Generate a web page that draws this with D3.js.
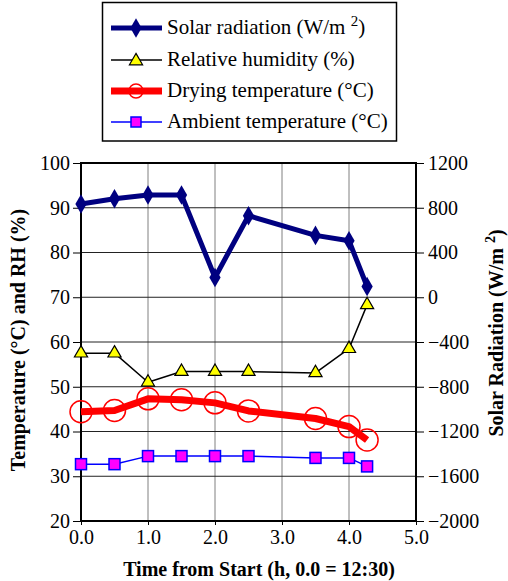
<!DOCTYPE html>
<html>
<head>
<meta charset="UTF-8">
<script src="https://d3js.org/d3.v7.min.js"></script>
<style>
    #fig text, #fig tspan { font-family: "Times New Roman", "Liberation Serif", Tinos, serif !important; }
</style>
</head>
<body style="margin:0">
<svg id="fig" width="508" height="581"></svg>
<script>
    // data
    let hours = [0.0, 0.5, 1.0, 1.5, 2.0, 2.5, 3.5, 4.0, 4.27]
    let solar = [833, 881, 914, 914, 177, 729, 553, 505, 96]
    let humidity = [57.5, 57.5, 51.0, 53.4, 53.4, 53.4, 53.1, 58.5, 68.3]
    let drying = [44.4, 44.7, 47.3, 47.1, 46.4, 44.6, 42.9, 41.1, 38.1]
    let ambient = [32.7, 32.7, 34.5, 34.5, 34.5, 34.5, 34.1, 34.1, 32.2]
    let xTicks = [0, 1, 2, 3, 4, 5]
    let leftTicks = [20, 30, 40, 50, 60, 70, 80, 90, 100]
    let rightTicks = [-2000, -1600, -1200, -800, -400, 0, 400, 800, 1200]

    let svg = d3.select("#fig")
    let pLeft = 81, pRight = 416, pTop = 163, pBottom = 521
    let serif = '"Times New Roman", "Liberation Serif", Tinos, serif'

    let x = d3.scaleLinear().domain([0, 5]).range([pLeft, pRight])
    let yL = d3.scaleLinear().domain([20, 100]).range([pBottom, pTop])
    let yR = d3.scaleLinear().domain([-2000, 1200]).range([pBottom, pTop])

    // grid
    svg.append("g").selectAll("line").data(xTicks.slice(1, -1)).join("line")
        .attr("x1", d => x(d)).attr("x2", d => x(d))
        .attr("y1", pTop).attr("y2", pBottom)
        .attr("stroke", "#808080").attr("stroke-width", 1)
    svg.append("g").selectAll("line").data(leftTicks.slice(1, -1)).join("line")
        .attr("x1", pLeft).attr("x2", pRight)
        .attr("y1", d => yL(d)).attr("y2", d => yL(d))
        .attr("stroke", "#222").attr("stroke-width", 1)

    // axes
    let axL = svg.append("g").attr("transform", `translate(${pLeft},0)`)
        .call(d3.axisLeft(yL).tickValues(leftTicks).tickSize(8).tickSizeOuter(0).tickPadding(3))
    let axR = svg.append("g").attr("transform", `translate(${pRight},0)`)
        .call(d3.axisRight(yR).tickValues(rightTicks).tickSize(8).tickSizeOuter(0).tickPadding(4)
            .tickFormat(d => d < 0 ? "\u2212" + Math.abs(d) : d))
    let axB = svg.append("g").attr("transform", `translate(0,${pBottom})`)
        .call(d3.axisBottom(x).tickValues(xTicks).tickSize(4).tickPadding(5).tickFormat(d3.format(".1f")))
    for (let ax of [axL, axR, axB]) {
        ax.attr("font-family", serif).attr("font-size", 20)
        ax.selectAll("text").style("font-family", serif).style("font-size", "20px").style("fill", "#000")
        ax.selectAll(".domain").remove()
        ax.selectAll(".tick line").attr("stroke", "#000").attr("stroke-width", 1)
    }
    svg.append("rect").attr("x", pLeft).attr("y", pTop)
        .attr("width", pRight - pLeft).attr("height", pBottom - pTop)
        .attr("fill", "none").attr("stroke", "#000").attr("stroke-width", 2)

    // series
    let idx = d3.range(hours.length)
    function drawLine(vals, scale, color, width) {
        svg.append("path").datum(idx)
            .attr("d", d3.line().x(i => x(hours[i])).y(i => scale(vals[i])))
            .attr("fill", "none").attr("stroke", color).attr("stroke-width", width)
            .attr("stroke-linejoin", "round")
    }

    drawLine(ambient, yL, "#0000ff", 1.5)
    svg.append("g").selectAll("rect").data(idx).join("rect")
        .attr("x", i => x(hours[i]) - 5.5).attr("y", i => yL(ambient[i]) - 5.5)
        .attr("width", 11).attr("height", 11)
        .attr("fill", "#ff00ff").attr("stroke", "#0000ff").attr("stroke-width", 1.5)

    drawLine(drying, yL, "#ff0000", 7)
    svg.append("g").selectAll("circle").data(idx).join("circle")
        .attr("cx", i => x(hours[i])).attr("cy", i => yL(drying[i])).attr("r", 11)
        .attr("fill", "none").attr("stroke", "#ff0000").attr("stroke-width", 1.5)

    drawLine(humidity, yL, "#000", 1.5)
    let tri = d3.symbol().type(d3.symbolTriangle).size(75)
    svg.append("g").selectAll("path").data(idx).join("path")
        .attr("d", tri).attr("transform", i => `translate(${x(hours[i])},${yL(humidity[i])})`)
        .attr("fill", "#ffff00").attr("stroke", "#000").attr("stroke-width", 1.2)

    drawLine(solar, yR, "#000080", 5)
    let dia = d3.symbol().type(d3.symbolDiamond).size(110)
    svg.append("g").selectAll("path").data(idx).join("path")
        .attr("d", dia).attr("transform", i => `translate(${x(hours[i])},${yR(solar[i])})`)
        .attr("fill", "#000080")

    // axis titles
    function label(sel, size, bold) {
        return sel.style("font-family", serif).style("font-size", size + "px")
            .style("font-weight", bold ? "bold" : "normal").style("fill", "#000")
    }
    label(svg.append("text"), 20, true).attr("x", 259).attr("y", 576).attr("text-anchor", "middle")
        .text("Time from Start (h, 0.0 = 12:30)")
    label(svg.append("text"), 20, true).attr("transform", "translate(25,340) rotate(-90)")
        .attr("text-anchor", "middle").text("Temperature (°C) and RH (%)")
    let rt = label(svg.append("text"), 20, true).attr("transform", "translate(503,333) rotate(-90)")
        .attr("text-anchor", "middle")
    rt.append("tspan").text("Solar Radiation (W/m ")
    rt.append("tspan").attr("dy", -8).style("font-size", "14px").text("2")
    rt.append("tspan").attr("dy", 8).text(")")

    // legend
    let legendNames = ["Solar radiation (W/m", "Relative humidity (%)", "Drying temperature (°C)", "Ambient temperature (°C)"]
    svg.append("rect").attr("x", 102.5).attr("y", 2.5).attr("width", 294).attr("height", 138.5)
        .attr("fill", "#fff").attr("stroke", "#000").attr("stroke-width", 1.5)
    let lg = svg.append("g")
    let ly = [28, 60, 91, 122]
    let sw = [[ "#000080", 5], ["#000", 1.5], ["#ff0000", 7], ["#0000ff", 1.5]]
    legendNames.forEach((name, i) => {
        lg.append("line").attr("x1", 111).attr("x2", 162).attr("y1", ly[i]).attr("y2", ly[i])
            .attr("stroke", sw[i][0]).attr("stroke-width", sw[i][1])
        let t = label(lg.append("text"), 21, false).attr("x", 167).attr("y", ly[i] + 6).text(name)
        if (i === 0) {
            t.append("tspan").text(" ")
            t.append("tspan").attr("dy", -8).style("font-size", "15px").text("2")
            t.append("tspan").attr("dy", 8).text(")")
        }
    })
    lg.append("path").attr("d", dia).attr("transform", `translate(136,${ly[0]})`).attr("fill", "#000080")
    lg.append("path").attr("d", tri).attr("transform", `translate(136,${ly[1] + 1})`)
        .attr("fill", "#ffff00").attr("stroke", "#000").attr("stroke-width", 1.2)
    lg.append("circle").attr("cx", 136).attr("cy", ly[2]).attr("r", 7)
        .attr("fill", "none").attr("stroke", "#ff0000").attr("stroke-width", 1.5)
    lg.append("rect").attr("x", 131).attr("y", ly[3] - 5).attr("width", 10).attr("height", 10)
        .attr("fill", "#ff00ff").attr("stroke", "#0000ff").attr("stroke-width", 1.5)
</script>
</body>
</html>
